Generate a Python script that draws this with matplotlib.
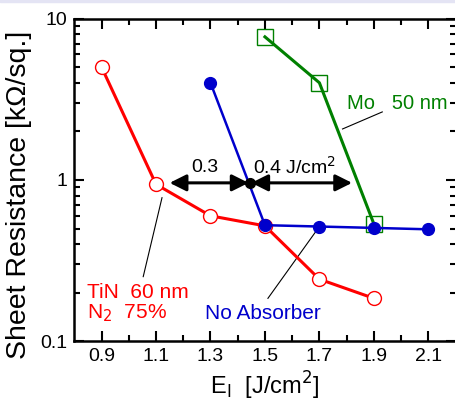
import matplotlib
matplotlib.use('Agg')
import matplotlib.pyplot as plt
from matplotlib.patches import Rectangle
from matplotlib.ticker import FixedLocator, NullFormatter, LogLocator

plt.rcParams['font.family'] = ['Liberation Sans', 'DejaVu Sans']

# data
e_tin = [0.9, 1.1, 1.3, 1.5, 1.7, 1.9]
r_tin = [5.0, 0.94, 0.60, 0.52, 0.243, 0.185]

e_none = [1.3, 1.5, 1.7, 1.9, 2.1]
r_none = [4.0, 0.525, 0.515, 0.505, 0.495]

e_mo = [1.5, 1.7, 1.9]
r_mo = [7.7, 4.0, 0.535]

x_ticks = [0.9, 1.1, 1.3, 1.5, 1.7, 1.9, 2.1]
x_tick_labels = ['0.9', '1.1', '1.3', '1.5', '1.7', '1.9', '2.1']

# threshold shift
e_mark = 1.445
r_mark = 0.96

fig = plt.figure(figsize=(4.56, 4.07), dpi=100)
# faint strip at the very top of the original screenshot
fig.patches.append(Rectangle((0, 0.995), 1, 0.005, transform=fig.transFigure,
                             color='#e4e4f4', zorder=0))
ax = fig.add_axes([0.163, 0.161, 0.836, 0.7935])

ax.plot(e_tin, r_tin, color='red', lw=2.2, marker='o', ms=10,
        mfc='white', mec='red', mew=1.0, zorder=3)
ax.plot(e_none, r_none, color='#0000cc', lw=1.8, marker='o', ms=8.5,
        mfc='#0000cc', mec='#0000cc', zorder=4)
ax.plot(e_mo, r_mo, color='green', lw=2.2, marker='s', ms=11,
        mfc='none', mec='green', mew=1.0, zorder=2)

ax.plot([e_mark], [r_mark], 'o', color='black', ms=7, zorder=6)
arrow = dict(arrowstyle='<|-|>', color='black', lw=2.2,
             mutation_scale=25, shrinkA=0, shrinkB=0)
ax.annotate('', xy=(1.15, r_mark), xytext=(1.44, r_mark),
            arrowprops=arrow, zorder=5)
ax.annotate('', xy=(1.45, r_mark), xytext=(1.82, r_mark),
            arrowprops=arrow, zorder=5)
ax.text(1.279, 1.2, '0.3', fontsize=14, ha='center', va='center')
ax.text(1.455, 1.2, '0.4 J/cm$^2$', fontsize=14, ha='left', va='center')

# labels with leader lines
ax.text(1.985, 2.96, 'Mo   50 nm', fontsize=14.5, color='green', ha='center', va='center')
ax.plot([1.785, 1.931], [2.07, 2.64], color='black', lw=0.8)

ax.text(0.847, 0.2, 'TiN  60 nm', fontsize=15, color='red', ha='left', va='center')
ax.text(0.847, 0.15, 'N$_2$  75%', fontsize=15, color='red', ha='left', va='center')
ax.plot([1.053, 1.122], [0.252, 0.777], color='black', lw=0.8)

ax.text(1.28, 0.15, 'No Absorber', fontsize=15, color='#0000cc', ha='left', va='center')
ax.plot([1.511, 1.70], [0.185, 0.515], color='black', lw=0.8)

ax.set_yscale('log')
ax.set_xlim(0.8, 2.2)
ax.set_ylim(0.1, 10)
ax.xaxis.set_major_locator(FixedLocator(x_ticks))
ax.set_xticklabels(x_tick_labels)
ax.xaxis.set_minor_locator(FixedLocator([1.0, 1.2, 1.4, 1.6, 1.8, 2.0]))
ax.yaxis.set_major_locator(LogLocator(base=10))
ax.yaxis.set_minor_locator(LogLocator(base=10, subs=range(2, 10)))
ax.yaxis.set_minor_formatter(NullFormatter())
ax.set_yticks([0.1, 1, 10])
ax.set_yticklabels(['0.1', '1', '10'])

ax.tick_params(which='both', direction='in', top=True, right=True,
               labelsize=14, width=1.5, pad=5)
ax.tick_params(which='major', length=7)
ax.tick_params(which='minor', length=4)
for s in ax.spines.values():
    s.set_linewidth(1.8)

ax.set_xlabel('E$_\\mathrm{I}$  [J/cm$^2$]', fontsize=17, labelpad=3)
ax.set_ylabel('Sheet Resistance [k\u03a9/sq.]', fontsize=20.5)
ax.yaxis.set_label_coords(-0.111, 0.455)

fig.savefig('out.png', dpi=100)
